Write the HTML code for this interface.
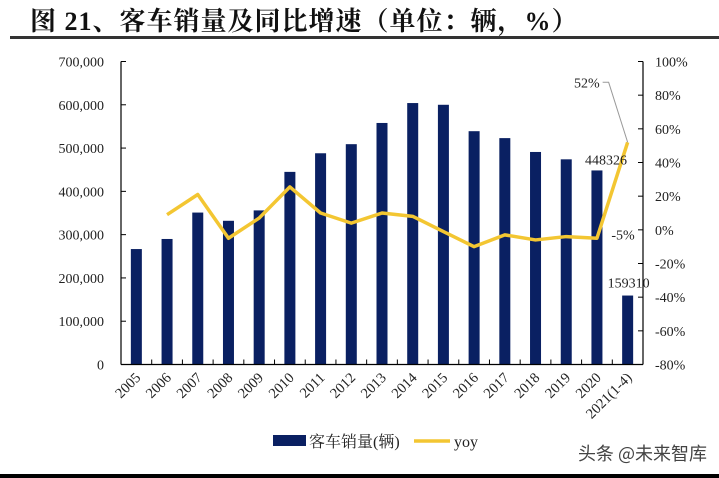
<!DOCTYPE html>
<html><head><meta charset="utf-8"><style>
body{margin:0;width:719px;height:478px;background:#fff;overflow:hidden;position:relative;font-family:"Liberation Serif","Noto Serif CJK SC",serif}
#title{position:absolute;left:30px;top:1px;font:bold 26px "Liberation Serif","Noto Serif CJK SC",serif;color:#111;letter-spacing:1px}
#rule{position:absolute;left:10px;top:36px;width:709px;height:3px;background:#333}
#wm{position:absolute;right:12px;bottom:12px;font:18px "Noto Sans CJK SC",sans-serif;color:#444}
#bot{position:absolute;left:0;bottom:0;width:719px;height:4px;background:#000}
</style></head><body>
<div id="title">图 21、客车销量及同比增速（单位：辆，%）</div>
<div id="rule"></div>
<svg id="chart" width="719" height="478" style="position:absolute;left:0;top:0"></svg>
<div id="wm">头条 @未来智库</div>
<div id="bot"></div>
<script>
const categories=["2005","2006","2007","2008","2009","2010","2011","2012","2013","2014","2015","2016","2017","2018","2019","2020","2021(1-4)"];
const sales=[266700,290000,351000,332000,356000,445000,488000,509000,558000,604000,600000,539000,523000,491000,474000,448326,159310];
const yoy=[null,9,21,-5,7,25.5,10,4,10,8,-1,-10,-3,-6,-4,-5,52];
const leftTicks=[0,100000,200000,300000,400000,500000,600000,700000];
const rightTicks=[-80,-60,-40,-20,0,20,40,60,80,100];
const NS="http://www.w3.org/2000/svg";
const svg=document.getElementById('chart');
const X0=121,X1=643,Y0=364.5,Y1=61.5;
const bw=(X1-X0)/categories.length;
const xc=i=>X0+bw*(i+0.5);
const yL=v=>Y0-(v/700000)*(Y0-Y1);
const yR=v=>Y0-((v+80)/180)*(Y0-Y1);
function mk(t,a,p){const e=document.createElementNS(NS,t);for(const k in a)e.setAttribute(k,a[k]);(p||svg).appendChild(e);return e;}
sales.forEach((v,i)=>{const r=mk('rect',{x:xc(i)-5.5,y:yL(v),width:11,height:Y0-yL(v),fill:'#0a2062'});

});
let ax=mk('line',{x1:X0,y1:Y0,x2:X1,y2:Y0,stroke:'#000','stroke-width':1.2});

let la=mk('line',{x1:X0,y1:Y1,x2:X0,y2:Y0,stroke:'#000','stroke-width':1.2});

let ra=mk('line',{x1:X1,y1:Y1,x2:X1,y2:Y0,stroke:'#000','stroke-width':1.2});

for(let i=0;i<=categories.length;i++){mk('line',{x1:X0+bw*i,y1:Y0,x2:X0+bw*i,y2:Y0-5,stroke:'#000'});}
leftTicks.forEach(v=>{const y=yL(v);mk('line',{x1:X0,y1:y,x2:X0+5,y2:y,stroke:'#000'});
const t=mk('text',{x:104,y:y+5,'text-anchor':'end','font-size':14,fill:'#222'});t.textContent=v.toLocaleString('en-US');
});
rightTicks.forEach(v=>{const y=yR(v);mk('line',{x1:X1,y1:y,x2:X1-5,y2:y,stroke:'#000'});
const t=mk('text',{x:655,y:y+5,'font-size':14,fill:'#222'});t.textContent=v+'%';
});
categories.forEach((c,i)=>{const x=xc(i)+5,y=Y0+14;const t=mk('text',{x:x,y:y,'text-anchor':'end','font-size':14.5,fill:'#222',transform:`rotate(-45 ${x} ${y})`});t.textContent=c;
});
let pts=[];yoy.forEach((v,i)=>{if(v!==null)pts.push(xc(i)+','+yR(v));});
const pl=mk('polyline',{points:pts.join(' '),fill:'none',stroke:'#f3c632','stroke-width':3.5,'stroke-linejoin':'round'});

const n=categories.length-1;
mk('polyline',{points:`${xc(n)},${yR(yoy[n])} ${xc(n)-19},${yR(yoy[n])-60} ${xc(n)-25},${yR(yoy[n])-60}`,fill:'none',stroke:'#999','stroke-width':1});
function lab(x,y,s,name){const t=mk('text',{x:x,y:y,'text-anchor':'end','font-size':14,fill:'#222'});t.textContent=s;
}
lab(xc(n)-28,yR(yoy[n])-55,yoy[n]+'%','label-yoy-2021');
lab(xc(n)+7,yR(yoy[n-1])+1,yoy[n-1]+'%','label-yoy-2020');
lab(xc(n-1)+30,yL(sales[n-1])-6,String(sales[n-1]),'label-sales-2020');
lab(xc(n)+22,yL(sales[n])-8,String(sales[n]),'label-sales-2021');
const lr=mk('rect',{x:273,y:435,width:33,height:11,fill:'#0a2062'});

const lt=mk('text',{x:309,y:447,'font-size':16,fill:'#222','font-family':'"Liberation Serif","Noto Serif CJK SC",serif'});lt.textContent='客车销量(辆)';

const ll=mk('line',{x1:414,y1:441,x2:450,y2:441,stroke:'#f3c632','stroke-width':3.5});

const lt2=mk('text',{x:454,y:447,'font-size':16,fill:'#222'});lt2.textContent='yoy';

</script>
</body></html>
